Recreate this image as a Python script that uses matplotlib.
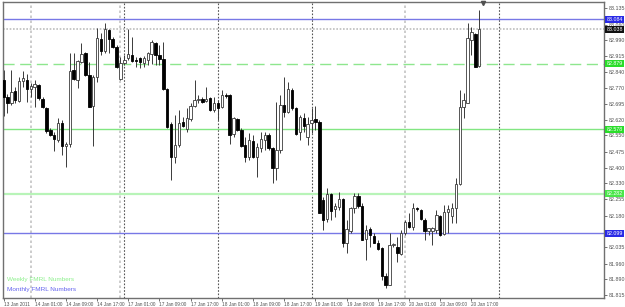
import matplotlib
matplotlib.use("Agg")
import matplotlib.pyplot as plt
from matplotlib import font_manager
import numpy as np

# ---- data (hourly OHLC, 13 Jan 17:00 .. 20 Jan 19:00) ----
opens = [82.805,82.728,82.700,82.756,82.710,82.800,82.805,82.762,82.771,82.782,
         82.719,82.674,82.575,82.552,82.529,82.605,82.503,82.510,82.851,82.805,
         82.889,82.928,82.828,82.685,82.820,82.992,82.940,83.035,82.992,82.958,
         82.808,82.885,82.905,82.920,82.897,82.905,82.885,82.897,82.925,82.977,
         82.920,82.900,82.762,82.602,82.449,82.506,82.613,82.578,82.624,82.685,
         82.713,82.716,82.708,82.720,82.667,82.697,82.682,82.736,82.736,82.555,
         82.624,82.575,82.506,82.452,82.526,82.452,82.490,82.529,82.552,82.490,
         82.398,82.483,82.690,82.659,82.759,82.674,82.567,82.628,82.544,82.608,
         82.625,82.613,82.253,82.164,82.279,82.210,82.219,82.256,82.056,82.110,
         82.217,82.271,82.225,82.072,82.118,82.087,82.056,82.030,81.903,81.861,
         82.046,82.038,82.004,82.099,82.153,82.130,82.217,82.207,82.161,82.111,
         82.111,82.115,82.179,82.096,82.199,82.179,82.214,82.326,82.682,82.700,
         82.989,83.017,82.871]
highs = [82.851,82.740,82.851,82.771,82.817,82.846,82.832,82.789,82.805,82.786,
         82.728,82.679,82.582,82.567,82.628,82.621,82.521,82.928,82.928,82.897,
         82.974,82.935,82.889,82.828,83.043,83.020,83.066,83.040,83.004,82.966,
         82.912,82.920,83.038,83.004,82.912,82.912,82.915,82.935,82.989,82.981,
         82.966,82.981,82.766,82.613,82.644,82.667,82.636,82.674,82.697,82.805,
         82.736,82.728,82.774,82.728,82.728,82.713,82.759,82.747,82.740,82.636,
         82.628,82.582,82.544,82.559,82.552,82.513,82.567,82.567,82.562,82.498,
         82.705,82.736,82.820,82.797,82.766,82.682,82.644,82.651,82.636,82.674,
         82.685,82.621,82.268,82.306,82.283,82.237,82.291,82.260,82.161,82.222,
         82.286,82.286,82.237,82.138,82.130,82.099,82.068,82.038,81.915,82.099,
         82.053,82.084,82.115,82.161,82.191,82.237,82.222,82.210,82.168,82.125,
         82.130,82.207,82.184,82.230,82.230,82.237,82.352,82.759,82.743,83.069,
         83.050,83.020,83.127]
lows = [82.639,82.651,82.690,82.697,82.705,82.774,82.705,82.728,82.682,82.713,
        82.674,82.562,82.547,82.480,82.521,82.460,82.406,82.498,82.805,82.766,
        82.882,82.823,82.679,82.501,82.797,82.920,82.928,82.928,82.951,82.859,
        82.805,82.874,82.897,82.889,82.866,82.859,82.866,82.874,82.878,82.874,
        82.874,82.759,82.582,82.345,82.421,82.498,82.590,82.567,82.618,82.682,
        82.697,82.697,82.705,82.664,82.659,82.621,82.674,82.720,82.510,82.544,
        82.572,82.498,82.429,82.437,82.444,82.360,82.475,82.483,82.483,82.329,
        82.345,82.467,82.636,82.651,82.667,82.552,82.529,82.567,82.506,82.559,
        82.575,82.191,82.115,82.153,82.161,82.176,82.207,82.038,82.007,82.099,
        82.191,82.214,82.068,81.976,82.038,82.053,82.023,81.884,81.846,81.861,
        82.038,81.969,81.999,82.092,82.122,82.115,82.204,82.161,82.068,82.092,
        82.046,82.099,82.088,82.092,82.099,82.145,82.145,82.322,82.628,82.697,
        82.920,82.863,82.866]
closes = [82.725,82.697,82.751,82.713,82.800,82.812,82.762,82.777,82.785,82.720,
          82.679,82.570,82.552,82.532,82.605,82.501,82.510,82.846,82.808,82.892,
          82.923,82.828,82.682,82.820,82.997,82.940,83.038,82.992,82.958,82.866,
          82.882,82.897,82.925,82.894,82.892,82.889,82.905,82.931,82.981,82.920,
          82.900,82.762,82.590,82.449,82.506,82.608,82.593,82.628,82.685,82.713,
          82.717,82.705,82.719,82.667,82.697,82.674,82.736,82.733,82.552,82.628,
          82.575,82.501,82.452,82.529,82.449,82.498,82.532,82.552,82.490,82.398,
          82.483,82.690,82.659,82.762,82.674,82.556,82.633,82.593,82.602,82.621,
          82.613,82.194,82.161,82.279,82.204,82.225,82.256,82.053,82.118,82.214,
          82.271,82.225,82.068,82.115,82.092,82.056,82.027,81.903,81.861,82.046,
          82.049,82.007,82.102,82.153,82.127,82.217,82.210,82.164,82.110,82.122,
          82.125,82.184,82.092,82.199,82.210,82.214,82.326,82.682,82.713,82.997,
          83.024,82.866,83.038]

x_labels = ["13 Jan 2011", "14 Jan 01:00", "14 Jan 09:00", "14 Jan 17:00",
            "17 Jan 01:00", "17 Jan 09:00", "17 Jan 17:00", "18 Jan 01:00",
            "18 Jan 09:00", "18 Jan 17:00", "19 Jan 01:00", "19 Jan 09:00",
            "19 Jan 17:00", "20 Jan 01:00", "20 Jan 09:00", "20 Jan 17:00"]
y_ticks = [83.135, 83.060, 82.990, 82.915, 82.840, 82.770, 82.695, 82.620,
           82.550, 82.475, 82.400, 82.330, 82.255, 82.180, 82.105, 82.035,
           81.960, 81.890, 81.815]
# 82.105 is hidden under the 82.099 price box in the reference
y_labels = ["" if v == 82.105 else f"{v:.3f}" for v in y_ticks]

weekly_levels = [82.879, 82.578, 82.282]
monthly_levels = [83.084, 82.099]
bid_price = 83.038

# ---- fonts ----
names = {f.name for f in font_manager.fontManager.ttflist}
if "Liberation Sans Narrow" in names:
    FAM, XS, YS, LS = "Liberation Sans Narrow", 4.1, 4.5, 5.4
else:
    FAM, XS, YS, LS = "Liberation Sans", 3.4, 3.8, 4.6
plt.rcParams["font.family"] = [FAM, "DejaVu Sans"]

# ---- figure ----
W, H = 625, 307
fig = plt.figure(figsize=(W / 100, H / 100), dpi=100)
fig.patch.set_facecolor("white")
ax_l, ax_r, ax_t, ax_b = 2.5, 604, 1.5, 297.5
ax = fig.add_axes([ax_l / W, 1 - ax_b / H, (ax_r - ax_l) / W, (ax_b - ax_t) / H])
ax.set_facecolor("white")

n = len(opens)
xs = np.arange(n)
ax.set_xlim(-0.26, 154.0)
ax.set_ylim(81.804, 83.166)

# period separators
for xv, col in [(7, "#c4c4c4"), (29.9, "#c4c4c4"), (30.85, "#555555"),
                (55, "#555555"), (79, "#555555"), (103, "#c4c4c4"), (127, "#555555")]:
    lw = 1.2 if col == "#c4c4c4" else 0.8
    ax.axvline(xv, color=col, lw=lw, ls=(0, (1.5, 1.5)), zorder=1)

# level lines
ax.axhline(monthly_levels[0], color="#7878e6", lw=1.0, zorder=1)
ax.axhline(monthly_levels[1], color="#7878e6", lw=1.0, zorder=1)
ax.axhline(bid_price, color="#bdbdbd", lw=1.2, ls=(0, (1, 1)), zorder=1)
ax.axhline(weekly_levels[0], color="#8ee68e", lw=1.0, ls=(0, (8, 4)), zorder=1)
ax.axhline(weekly_levels[1], color="#82e682", lw=1.0, zorder=1)
ax.axhline(weekly_levels[2], color="#b8f4b8", lw=1.6, zorder=1)

# candles
o = np.array(opens); h = np.array(highs); l = np.array(lows); c = np.array(closes)
ax.vlines(xs, l, h, color="#3a3a3a", lw=0.7, zorder=2)
bull = c >= o
bw = 0.62
ax.bar(xs[bull], np.maximum(c[bull] - o[bull], 0.0015), bottom=o[bull], width=bw,
       color="white", edgecolor="#3a3a3a", lw=0.6, zorder=3)
ax.bar(xs[~bull], np.maximum(o[~bull] - c[~bull], 0.0015), bottom=c[~bull], width=bw,
       color="black", edgecolor="black", lw=0.6, zorder=3)

# shift marker at top
ax.plot([123], [83.157], marker="v", ms=3, color="#505050", zorder=4, clip_on=False)

# axes styling
for side in ["left", "top", "bottom", "right"]:
    ax.spines[side].set_color("#707070")
    ax.spines[side].set_linewidth(1.0)
ax.yaxis.tick_right()
ax.set_yticks(y_ticks)
ax.set_yticklabels(y_labels)
ax.tick_params(axis="y", direction="out", length=2, width=0.7, colors="#707070",
               labelcolor="#505050", labelsize=YS, pad=1.5)
ax.set_xticks(np.arange(0, 8 * len(x_labels), 8))
ax.set_xticklabels(x_labels)
ax.tick_params(axis="x", direction="out", length=2.5, width=0.7, colors="#707070",
               labelcolor="#505050", labelsize=XS, pad=1)
for lbl in ax.get_xticklabels():
    lbl.set_ha("left")

# right side price boxes
def price_box(val, bg, fg="white"):
    ax.text(1.004, val, f"{val:.3f}", transform=ax.get_yaxis_transform(),
            ha="left", va="center", fontsize=YS, color=fg, zorder=10, clip_on=False,
            bbox=dict(boxstyle="square,pad=0.2", fc=bg, ec="none"))

price_box(monthly_levels[0], "#2a2ae6")
price_box(bid_price, "#111111")
price_box(weekly_levels[0], "#2add2a")
price_box(weekly_levels[1], "#2add2a")
price_box(weekly_levels[2], "#4ae64a")
price_box(monthly_levels[1], "#2a2ae6")

# legend-like texts
fig.text(7 / W, 1 - 279 / H, "Weekly FMRL Numbers", color="#8cf08c", fontsize=LS,
         ha="left", va="center")
fig.text(7 / W, 1 - 289 / H, "Monthly FMRL Numbers", color="#6464ee", fontsize=LS,
         ha="left", va="center")

fig.savefig("out.png", dpi=100, facecolor="white")
